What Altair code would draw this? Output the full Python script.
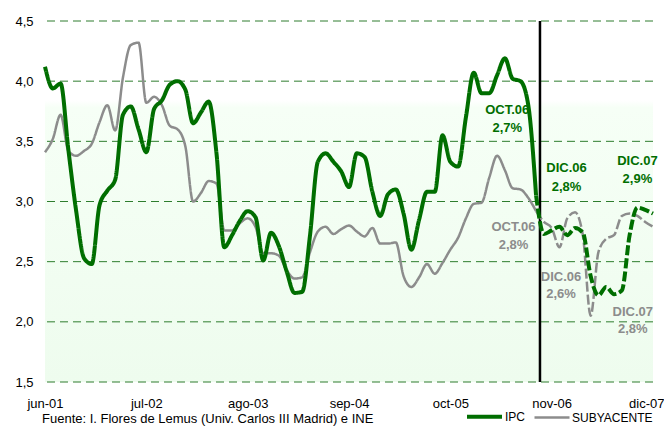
import altair as alt
import pandas as pd

# ---- data ----
months = list(range(79))  # 0 = jun-01 ... 78 = dic-07
x_tick_pos = [0, 13, 26, 39, 52, 65, 78]
x_tick_labels = ["jun-01", "jul-02", "ago-03", "sep-04", "oct-05", "nov-06", "dic-07"]
y_ticks = [1.5, 2.0, 2.5, 3.0, 3.5, 4.0, 4.5]

ipc = [4.12, 3.94, 3.98, 3.43, 2.92, 2.53, 2.48, 2.97, 3.09, 3.18,
       3.72, 3.79, 3.60, 3.41, 3.77, 3.84, 3.97, 4.00, 3.93, 3.65,
       3.74, 3.83, 3.40, 2.62, 2.72, 2.84, 2.92, 2.87, 2.51, 2.74,
       2.63, 2.42, 2.24, 2.25, 2.72, 3.33, 3.40, 3.33, 3.25, 3.12,
       3.40, 3.37, 3.08, 2.88, 3.06, 3.10, 2.90, 2.60, 2.85, 3.08,
       3.08, 3.55, 3.33, 3.29, 3.70, 4.07, 3.90, 3.90, 4.05, 4.19,
       4.02, 4.00, 3.80, 3.05, 2.73, 2.76, 2.79, 2.72, 2.78, 2.74,
       2.38, 2.22, 2.29, 2.23, 2.26, 2.72, 2.95, 2.93, 2.90]

subyacente = [3.41, 3.52, 3.72, 3.42, 3.38, 3.42, 3.48, 3.66, 3.80, 3.59,
              4.03, 4.30, 4.32, 3.82, 3.87, 3.80, 3.63, 3.60, 3.46, 3.00,
              3.07, 3.17, 3.15, 2.76, 2.76, 2.82, 2.86, 2.79, 2.57, 2.57,
              2.55, 2.43, 2.36, 2.37, 2.58, 2.75, 2.79, 2.73, 2.77, 2.80,
              2.75, 2.71, 2.78, 2.65, 2.65, 2.66, 2.38, 2.29, 2.37, 2.48,
              2.40, 2.49, 2.60, 2.70, 2.86, 2.98, 2.99, 3.20, 3.38, 3.26,
              3.11, 3.10, 3.03, 2.92, 2.83, 2.78, 2.62, 2.86, 2.91, 2.72,
              2.05, 2.58, 2.69, 2.72, 2.88, 2.90, 2.88, 2.83, 2.79]

last_real = 63          # last observed month (oct-06 area)
forecast_line = 63.5    # vertical separator

series_names = ["IPC", "SUBYACENTE"]
series_colors = ["#006E00", "#8C8C8C"]

ann_green_text = ["OCT.06", "2,7%", "DIC.06", "2,8%", "DIC.07", "2,9%"]
ann_green_x = [59.3, 59.3, 66.9, 66.9, 76.0, 76.0]
ann_green_y = [3.76, 3.61, 3.28, 3.12, 3.34, 3.19]
ann_gray_text = ["OCT.06", "2,8%", "DIC.06", "2,6%", "DIC.07", "2,8%"]
ann_gray_x = [60.1, 60.1, 66.2, 66.2, 75.4, 75.4]
ann_gray_y = [2.79, 2.64, 2.37, 2.23, 2.08, 1.94]

source = "Fuente: I. Flores de Lemus (Univ. Carlos III Madrid) e INE"

# ---- tables ----
rows = []
for name, vals in [("SUBYACENTE", subyacente), ("IPC", ipc)]:
    for m, v in zip(months, vals):
        if m <= last_real:
            rows.append({"mes": m, "valor": v, "serie": name, "tramo": "real"})
        if m >= last_real:
            rows.append({"mes": m, "valor": v, "serie": name, "tramo": "prevision"})
df = pd.DataFrame(rows)

FONT = "Liberation Sans"
label_list = "[" + ",".join("'%s'" % s for s in x_tick_labels) + "]"

xscale = alt.Scale(domain=[0, 78], nice=False, zero=False)
yscale = alt.Scale(domain=[1.5, 4.5], nice=False, zero=False)
xaxis = alt.Axis(values=x_tick_pos, labelExpr=label_list + "[round(datum.value/13)]",
                 grid=False, domain=False, ticks=False, labelFontSize=13, labelPadding=15,
                 labelColor="black", labelFont=FONT, labelFlush=False, labelOverlap=False,
                 labelBound=False, title=None,
                 labelAlign={"condition": {"test": "datum.value == 78", "value": "right"},
                             "value": "center"},
                 labelOffset={"condition": {"test": "datum.value == 78", "value": 11},
                              "value": 0})
yaxis = alt.Axis(values=y_ticks, labelExpr="replace(format(datum.value,'.1f'),'.',',')",
                 grid=False, domain=False, ticks=False, labelFontSize=13, labelPadding=12,
                 labelColor="black", labelFont=FONT, title=None)

def X(f):
    return alt.X(f, scale=xscale, axis=xaxis)

def Y(f):
    return alt.Y(f, scale=yscale, axis=yaxis)

bg = alt.Chart(pd.DataFrame({"x0": [0], "x1": [78], "y0": [1.5], "y1": [4.5]})).mark_rect(
    color=alt.Gradient(
        gradient="linear",
        stops=[alt.GradientStop(color="#FFFFFF", offset=0),
               alt.GradientStop(color="#FFFFFF", offset=0.22),
               alt.GradientStop(color="#F6FFF6", offset=0.24),
               alt.GradientStop(color="#EEFCEE", offset=1)],
        x1=0, x2=0, y1=0, y2=1)
).encode(x=X("x0:Q"), x2="x1:Q", y=Y("y0:Q"), y2="y1:Q")

grid = alt.Chart(pd.DataFrame({"y": y_ticks})).mark_rule(
    color="#2E7D2E", strokeWidth=1, strokeDash=[8, 5]
).encode(y=Y("y:Q"))

vline = alt.Chart(pd.DataFrame({"x": [forecast_line]})).mark_rule(
    color="black", strokeWidth=2.5
).encode(x=X("x:Q"))

legend = alt.Legend(orient="none", legendX=420, legendY=376, direction="horizontal",
                    title=None, symbolType="stroke", symbolSize=1225, labelFontSize=12,
                    labelFont=FONT, labelColor="black", columnPadding=3, labelOffset=1)

color = alt.Color("serie:N", scale=alt.Scale(domain=series_names, range=series_colors), legend=legend)
width = alt.StrokeWidth("serie:N", scale=alt.Scale(domain=series_names, range=[4, 2.5]), legend=legend)
dash = alt.StrokeDash("tramo:N", scale=alt.Scale(domain=["real", "prevision"], range=[[1, 0], [10, 3]]),
                      legend=None)

def line(name):
    return alt.Chart(df[df.serie == name]).mark_line(interpolate="monotone").encode(
        x=X("mes:Q"), y=Y("valor:Q"), color=color, strokeWidth=width, strokeDash=dash,
        detail="tramo:N")

def ann(texts, xs, ys, col):
    d = pd.DataFrame({"mes": xs, "valor": ys, "t": texts})
    return alt.Chart(d).mark_text(font=FONT, fontSize=13, fontWeight="bold", color=col).encode(
        x=X("mes:Q"), y=Y("valor:Q"), text="t:N")

caption = alt.Chart(pd.DataFrame({"t": [source]})).mark_text(
    font=FONT, fontSize=13, color="black", align="left", baseline="middle"
).encode(x=alt.value(-3), y=alt.value(398), text="t:N")

chart = alt.layer(
    bg, grid, vline, line("SUBYACENTE"), line("IPC"),
    ann(ann_green_text, ann_green_x, ann_green_y, "#006E00"),
    ann(ann_gray_text, ann_gray_x, ann_gray_y, "#8C8C8C"),
    caption,
).properties(
    width=608, height=361,
    autosize=alt.AutoSizeParams(type="none"),
    padding={"left": 37, "top": 13, "right": 11, "bottom": 44},
).configure_view(stroke=None)

chart.save("out.html", embed_options={"renderer": "svg", "actions": False})
